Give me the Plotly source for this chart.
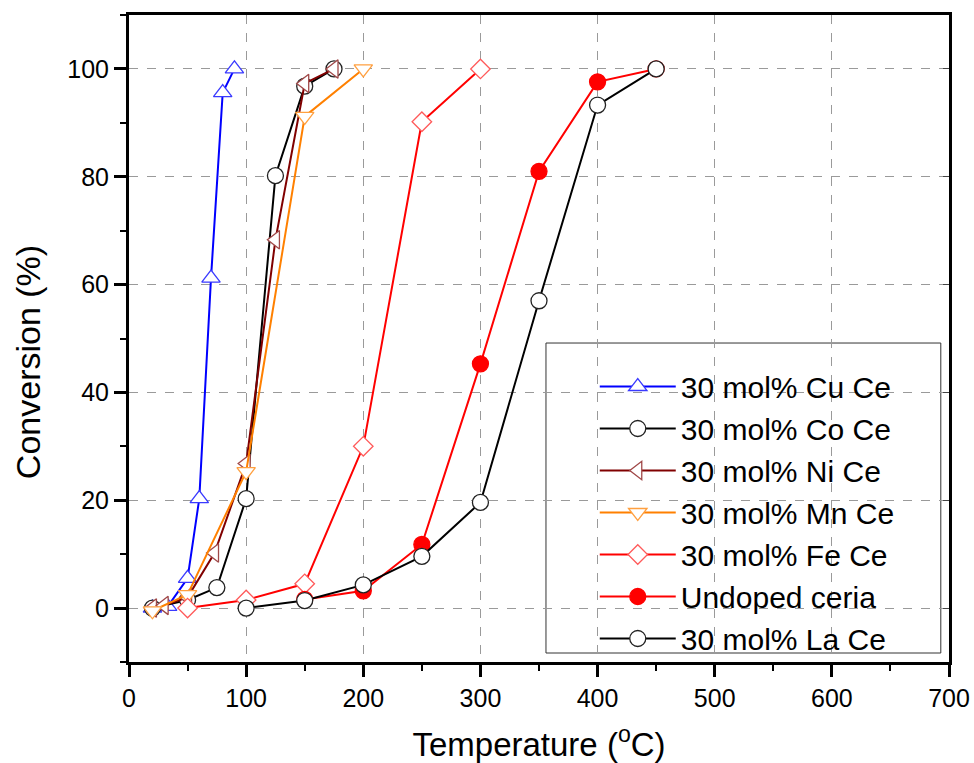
import plotly.graph_objects as go

# ---- data ----
cu_T = [20, 33, 50, 60, 70, 80, 90]
cu_C = [0, 0.3, 5.5, 20.3, 61.2, 95.6, 100]
co_T = [20, 50, 75, 100, 125, 150, 175]
co_C = [0, 1.5, 3.8, 20.3, 80.2, 96.8, 100]
ni_T = [20, 30, 50, 73, 100, 125, 150, 175]
ni_C = [0, 0.5, 2.0, 10.2, 26.8, 68.3, 97.3, 100]
mn_T = [20, 50, 100, 150, 200]
mn_C = [-0.5, 2.5, 25.3, 91.2, 100]
fe_T = [50, 100, 150, 200, 250, 300]
fe_C = [0, 1.5, 4.5, 30, 90.2, 100]
un_T = [150, 200, 250, 300, 350, 400, 450]
un_C = [1.6, 3.2, 11.8, 45.3, 81, 97.6, 100]
la_T = [100, 150, 200, 250, 300, 350, 400, 450]
la_C = [0, 1.4, 4.3, 9.6, 19.6, 57, 93.3, 100]

names = ["30 mol% Cu Ce", "30 mol% Co Ce", "30 mol% Ni Ce", "30 mol% Mn Ce",
         "30 mol% Fe Ce", "Undoped ceria", "30 mol% La Ce"]
x_ticks = [0, 100, 200, 300, 400, 500, 600, 700]
y_ticks = [0, 20, 40, 60, 80, 100]

FONT = "Liberation Sans, Arial, sans-serif"

series = [
    (cu_T, cu_C, "#0000FF", "triangle-up", "white", "#3a3aff", 16),
    (co_T, co_C, "#000000", "circle", "white", "#222222", 16),
    (ni_T, ni_C, "#800000", "triangle-left", "white", "#a04848", 16),
    (mn_T, mn_C, "#FF8000", "triangle-down", "white", "#ffa040", 16),
    (fe_T, fe_C, "#FF0000", "diamond", "white", "#ff5a5a", 15),
    (un_T, un_C, "#FF0000", "circle", "#FF0000", "#FF0000", 16),
    (la_T, la_C, "#000000", "circle", "white", "#222222", 16),
]

fig = go.Figure()
for (xs, ys, lc, sym, fc, ec, sz), nm in zip(series, names):
    fig.add_trace(go.Scatter(
        x=xs, y=ys, name=nm, mode="lines+markers",
        line=dict(color=lc, width=2),
        marker=dict(symbol=sym, size=sz, color=fc, line=dict(color=ec, width=1.3)),
    ))

# dummy trace for right axis ticks
fig.add_trace(go.Scatter(x=[None], y=[None], yaxis="y2", showlegend=False, hoverinfo="skip"))

axis_common = dict(
    showline=True, linecolor="black", linewidth=3, mirror=True,
    ticks="outside", tickcolor="black", tickwidth=3, ticklen=12,
    showgrid=True, gridcolor="#9a9a9a", griddash="dash", gridwidth=1,
    zeroline=False, automargin=False,
    tickfont=dict(family=FONT, size=25, color="black"),
)

fig.update_layout(
    width=974, height=763,
    margin=dict(l=129, r=25, t=15, b=101),
    plot_bgcolor="white", paper_bgcolor="white",
    xaxis=dict(
        range=[0, 700], tickvals=x_ticks, ticktext=[str(v) for v in x_ticks],
        minor=dict(dtick=50, tick0=0, ticks="outside", ticklen=6, tickwidth=2, tickcolor="black", showgrid=False),
        title=dict(text="Temperature (<sup>o</sup>C)", font=dict(family=FONT, size=33, color="black"), standoff=24),
        **axis_common,
    ),
    yaxis=dict(
        range=[-10, 110], tickvals=y_ticks, ticktext=[str(v) for v in y_ticks],
        minor=dict(dtick=10, tick0=0, ticks="outside", ticklen=6, tickwidth=2, tickcolor="black", showgrid=False),
        **axis_common,
    ),
    yaxis2=dict(
        overlaying="y", side="right", range=[-10, 110], tickvals=y_ticks,
        ticks="inside", ticklen=6, tickwidth=1, tickcolor="#444", automargin=False,
        showticklabels=False, showgrid=False, showline=False, zeroline=False,
    ),
    legend=dict(
        x=0.568, y=0.466, xanchor="left", yanchor="top",
        bgcolor="rgba(0,0,0,0)", borderwidth=0,
        font=dict(family=FONT, size=30, color="black"),
        itemwidth=76, tracegroupgap=0,
    ),
    shapes=[dict(
        type="rect", xref="paper", yref="paper",
        x0=0.5085, x1=0.990, y0=0.0139, y1=0.4930,
        line=dict(color="#333333", width=1), fillcolor="white", layer="between",
    )],
    annotations=[dict(
        text="Conversion (%)", xref="paper", yref="paper",
        x=-0.123, y=0.4637, xanchor="center", yanchor="middle",
        textangle=-90, showarrow=False,
        font=dict(family=FONT, size=34, color="black"),
    )],
    showlegend=True,
)

fig.write_html("out.html")
